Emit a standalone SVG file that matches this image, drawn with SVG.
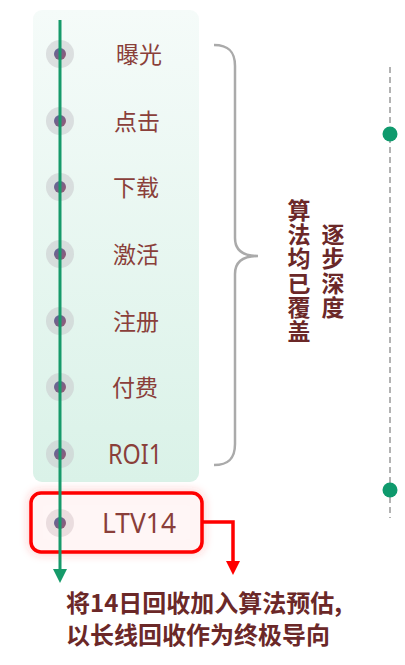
<svg xmlns="http://www.w3.org/2000/svg" width="405" height="665" viewBox="0 0 405 665">
  <defs>
    <linearGradient id="panelGrad" x1="0" y1="0" x2="0" y2="1">
      <stop offset="0" stop-color="#f5fbf9"/>
      <stop offset="1" stop-color="#daf2e8"/>
    </linearGradient>
    <linearGradient id="dotGrad" x1="0" y1="0" x2="1" y2="1">
      <stop offset="0" stop-color="#5a669a"/>
      <stop offset="1" stop-color="#9a5a72"/>
    </linearGradient>
    <filter id="glow" x="-20%" y="-40%" width="140%" height="180%">
      <feDropShadow dx="0" dy="0" stdDeviation="5" flood-color="#ff3030" flood-opacity="0.35"/>
    </filter>
    <marker id="arrGreen" markerUnits="userSpaceOnUse" markerWidth="16" markerHeight="14" refX="7" refY="0" orient="auto" viewBox="0 -7 16 14">
      <path d="M0,-7 L14,0 L0,7 Z" fill="#169a6a"/>
    </marker>
    <marker id="arrRed" markerUnits="userSpaceOnUse" markerWidth="16" markerHeight="14" refX="2" refY="0" orient="auto" viewBox="0 -7 16 14">
      <path d="M0,-7 L14,0 L0,7 Z" fill="#ff0000"/>
    </marker>
  </defs>
  <style>
    .label { font-family: "Noto Sans CJK SC", "Noto Sans", sans-serif; font-size: 23px; fill: #8a3f3a; text-anchor: middle; dominant-baseline: central; }
    .latin { font-family: "Noto Sans", "Liberation Sans", sans-serif; font-size: 28px; fill: #8a3f3a; text-anchor: middle; dominant-baseline: central; }
    .halo { fill: #c8c8cc; fill-opacity: 0.55; }
    .dot { fill: url(#dotGrad); }
    .vert { font-family: "Noto Sans CJK SC", sans-serif; font-size: 23px; font-weight: bold; fill: #6b2828; text-anchor: middle; dominant-baseline: central; }
    .note { font-family: "Noto Sans CJK SC", sans-serif; font-size: 24px; font-weight: bold; fill: #6b2828; }
  </style>

  <rect id="panel" x="33" y="10" width="166" height="472" rx="9" fill="url(#panelGrad)"/>

  <g id="red-box">
    <rect x="31" y="493" width="171" height="59" rx="10" fill="#ffffff" fill-opacity="0.6" stroke="#ff0000" stroke-width="3.5" filter="url(#glow)"/>
  </g>

  <g id="nodes">
    <g id="n-exposure"><circle class="halo" cx="60" cy="54" r="14"/><circle class="dot" cx="60" cy="54" r="6"/><text class="label" x="139" y="53">曝光</text></g>
    <g id="n-click"><circle class="halo" cx="60" cy="121" r="14"/><circle class="dot" cx="60" cy="121" r="6"/><text class="label" x="137" y="120">点击</text></g>
    <g id="n-download"><circle class="halo" cx="60" cy="187" r="14"/><circle class="dot" cx="60" cy="187" r="6"/><text class="label" x="136" y="186">下载</text></g>
    <g id="n-activate"><circle class="halo" cx="60" cy="254" r="14"/><circle class="dot" cx="60" cy="254" r="6"/><text class="label" x="136" y="253">激活</text></g>
    <g id="n-register"><circle class="halo" cx="60" cy="321" r="14"/><circle class="dot" cx="60" cy="321" r="6"/><text class="label" x="136" y="320">注册</text></g>
    <g id="n-pay"><circle class="halo" cx="60" cy="387" r="14"/><circle class="dot" cx="60" cy="387" r="6"/><text class="label" x="135" y="386">付费</text></g>
    <g id="n-roi1"><circle class="halo" cx="60" cy="454" r="14"/><circle class="dot" cx="60" cy="454" r="6"/><text class="latin" x="135" y="453" textLength="54" lengthAdjust="spacingAndGlyphs">ROI1</text></g>
    <g id="n-ltv14"><circle class="halo" cx="60" cy="523" r="14" style="fill:#d8c8cc"/><circle class="dot" cx="60" cy="523" r="6"/><text class="latin" x="139" y="522" textLength="74" lengthAdjust="spacingAndGlyphs">LTV14</text></g>
  </g>

  <g id="connectors">
    <line x1="60" y1="20" x2="60" y2="576" stroke="#169a6a" stroke-width="3" marker-end="url(#arrGreen)"/>
    <polyline points="202,522 233,522 233,563" fill="none" stroke="#ff0000" stroke-width="3.5" marker-end="url(#arrRed)"/>
    <path d="M214,45 C229,45 235,52 235,66 L235,238 C235,250 242,256 258,256 C242,256 235,262 235,274 L235,444 C235,458 229,465 214,465" fill="none" stroke="#aaaaaa" stroke-width="2.5"/>
    <line x1="390" y1="67" x2="390" y2="518" stroke="#999999" stroke-width="1.5" stroke-dasharray="6,4"/>
  </g>

  <g id="markers-right">
    <circle cx="390" cy="134" r="7.5" fill="#0f9a6d"/>
    <circle cx="390" cy="490" r="7.5" fill="#0f9a6d"/>
  </g>

  <g id="vertical-text-1">
    <text class="vert" x="299" y="209">算</text>
    <text class="vert" x="299" y="233">法</text>
    <text class="vert" x="299" y="257">均</text>
    <text class="vert" x="299" y="282">已</text>
    <text class="vert" x="299" y="306">覆</text>
    <text class="vert" x="299" y="330">盖</text>
  </g>
  <g id="vertical-text-2">
    <text class="vert" x="333" y="233">逐</text>
    <text class="vert" x="333" y="257">步</text>
    <text class="vert" x="333" y="282">深</text>
    <text class="vert" x="333" y="306">度</text>
  </g>

  <g id="note">
    <text class="note" x="66" y="612">将14日回收加入算法预估,</text>
    <text class="note" x="66" y="644">以长线回收作为终极导向</text>
  </g>
</svg>
